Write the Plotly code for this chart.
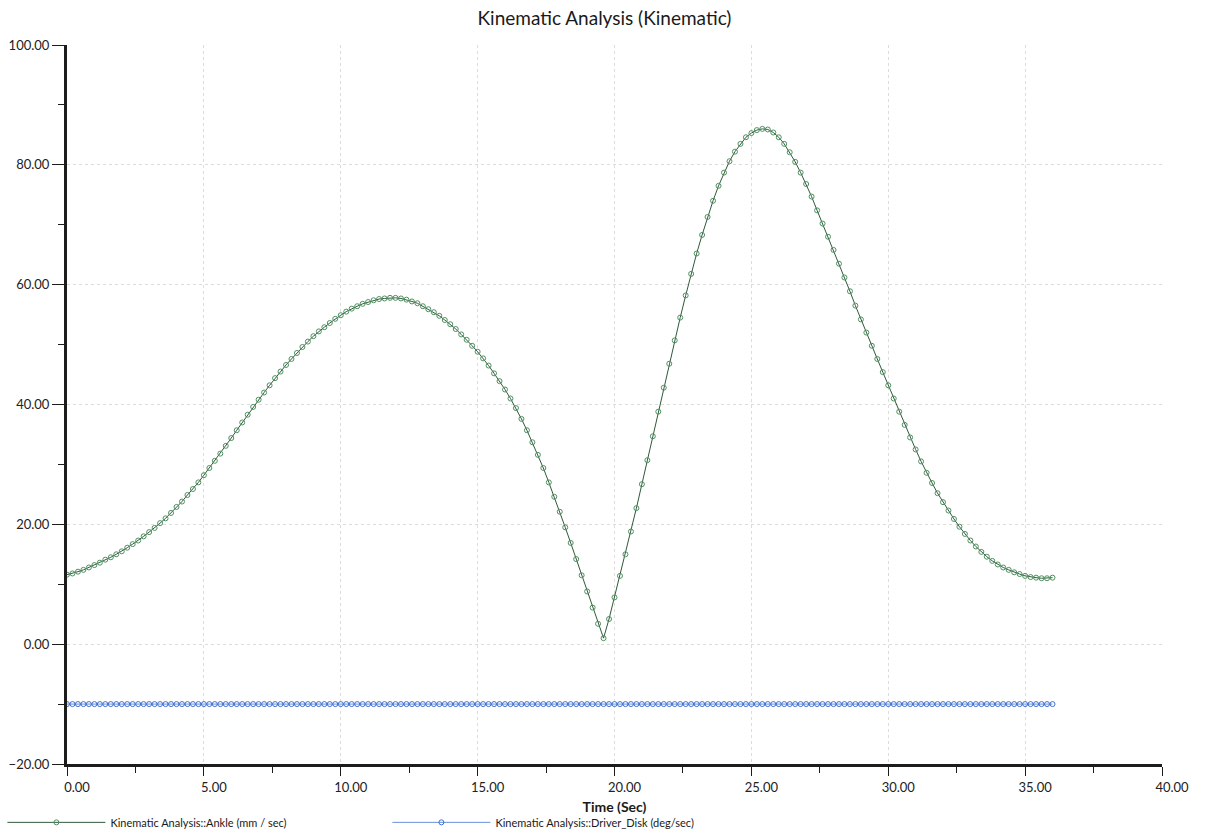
import plotly.graph_objects as go

# Time samples (s), 0.2 s apart, 0 .. 36
time_sec = [round(0.2 * i, 1) for i in range(181)]

# Ankle speed (mm/sec), 10 samples (2 s) per row
ankle_mm_s = [
    11.6, 11.8, 12.1, 12.4, 12.8, 13.2, 13.6, 14.1, 14.5, 15.0,   # 0.0 - 1.8
    15.5, 16.1, 16.7, 17.3, 18.0, 18.7, 19.4, 20.2, 21.0, 21.9,   # 2.0 - 3.8
    22.9, 23.8, 24.9, 25.9, 27.0, 28.2, 29.4, 30.6, 31.8, 33.1,   # 4.0 - 5.8
    34.4, 35.7, 37.0, 38.3, 39.6, 40.8, 42.0, 43.2, 44.4, 45.5,   # 6.0 - 7.8
    46.6, 47.6, 48.6, 49.6, 50.5, 51.4, 52.2, 52.9, 53.6, 54.3,   # 8.0 - 9.8
    54.9, 55.5, 56.0, 56.4, 56.8, 57.1, 57.4, 57.6, 57.7, 57.8,   # 10.0 - 11.8
    57.8, 57.7, 57.5, 57.2, 56.9, 56.4, 55.9, 55.4, 54.8, 54.1,   # 12.0 - 13.8
    53.4, 52.6, 51.7, 50.8, 49.8, 48.8, 47.7, 46.5, 45.2, 43.9,   # 14.0 - 15.8
    42.5, 41.0, 39.4, 37.6, 35.7, 33.7, 31.6, 29.4, 27.0, 24.6,   # 16.0 - 17.8
    22.1, 19.5, 16.9, 14.2, 11.5, 8.8, 6.1, 3.4, 1.0, 4.2,        # 18.0 - 19.8
    7.8, 11.4, 15.0, 18.8, 22.7, 26.7, 30.7, 34.7, 38.8, 42.8,    # 20.0 - 21.8
    46.8, 50.7, 54.5, 58.2, 61.8, 65.2, 68.3, 71.3, 74.0, 76.5,   # 22.0 - 23.8
    78.7, 80.6, 82.2, 83.5, 84.6, 85.3, 85.8, 86.0, 85.9, 85.4,   # 24.0 - 25.8
    84.6, 83.5, 82.1, 80.5, 78.7, 76.8, 74.7, 72.4, 70.2, 68.0,   # 26.0 - 27.8
    65.8, 63.5, 61.2, 58.9, 56.5, 54.2, 52.0, 49.8, 47.6, 45.4,   # 28.0 - 29.8
    43.2, 41.0, 38.8, 36.6, 34.5, 32.5, 30.5, 28.6, 26.9, 25.2,   # 30.0 - 31.8
    23.7, 22.3, 20.9, 19.6, 18.4, 17.3, 16.3, 15.4, 14.6, 13.9,   # 32.0 - 33.8
    13.3, 12.8, 12.4, 12.0, 11.7, 11.4, 11.2, 11.1, 11.0, 11.0,   # 34.0 - 35.8
    11.1,                                                         # 36.0
]

# Driver disk angular speed (deg/sec): constant
driver_deg_s = [-10.0] * len(time_sec)

x_ticks = [0, 5, 10, 15, 20, 25, 30, 35, 40]
y_ticks = [-20, 0, 20, 40, 60, 80, 100]

FONT = "Lato"
AX = "#1c1c1c"

fig = go.Figure()

fig.add_trace(go.Scatter(
    x=time_sec, y=driver_deg_s, mode="lines+markers",
    name="Kinematic Analysis::Driver_Disk (deg/sec)",
    line=dict(color="#6a90da", width=1),
    marker=dict(symbol="circle-open", size=5, color="#3f6fd0", line=dict(width=1)),
))

fig.add_trace(go.Scatter(
    x=time_sec, y=ankle_mm_s, mode="lines+markers",
    name="Kinematic Analysis::Ankle (mm / sec)",
    line=dict(color="#2f5a3a", width=1),
    marker=dict(symbol="circle-open", size=5, color="#4f8f60", line=dict(width=1)),
))

fig.update_layout(
    width=1209, height=835,
    margin=dict(l=67, r=47, t=45, b=71, autoexpand=False),
    paper_bgcolor="#ffffff", plot_bgcolor="#ffffff",
    title=dict(text="Kinematic Analysis (Kinematic)", x=0.5, xanchor="center",
               y=0.978, yanchor="middle",
               font=dict(family=FONT, size=19, color="#1a1a1a")),
    showlegend=True,
    legend=dict(orientation="h", x=-0.059, xanchor="left", y=-0.061, yanchor="top",
                itemwidth=98, entrywidth=272, entrywidthmode="pixels",
                traceorder="reversed",
                font=dict(family=FONT, size=11, color="#1a1a1a"),
                bgcolor="rgba(0,0,0,0)"),
    font=dict(family=FONT, size=13, color="#1a1a1a"),
)

fig.update_xaxes(
    range=[0, 40], tickvals=x_ticks, tickformat=".2f",
    showline=True, linecolor=AX, linewidth=3,
    ticks="outside", ticklen=9, tickwidth=1, tickcolor=AX,
    ticklabelshift=10,
    showgrid=True, gridcolor="#dcdcdc", griddash="dot", gridwidth=1,
    zeroline=False, automargin=False,
    minor=dict(dtick=2.5, ticks="outside", ticklen=6, tickcolor=AX, showgrid=False),
    tickfont=dict(family=FONT, size=13, color="#222222"),
    title=dict(text="<b>Time (Sec)</b>", standoff=9,
               font=dict(family=FONT, size=14, color="#1a1a1a")),
)

fig.update_yaxes(
    range=[-20, 100], tickvals=y_ticks, tickformat=".2f",
    showline=True, linecolor=AX, linewidth=3,
    ticks="outside", ticklen=12, tickwidth=1, tickcolor=AX,
    showgrid=True, gridcolor="#dcdcdc", griddash="dot", gridwidth=1,
    zeroline=False, automargin=False,
    minor=dict(dtick=10, ticks="outside", ticklen=6, tickcolor=AX, showgrid=False),
    tickfont=dict(family=FONT, size=13, color="#222222"),
)

fig.write_html("out.html")
